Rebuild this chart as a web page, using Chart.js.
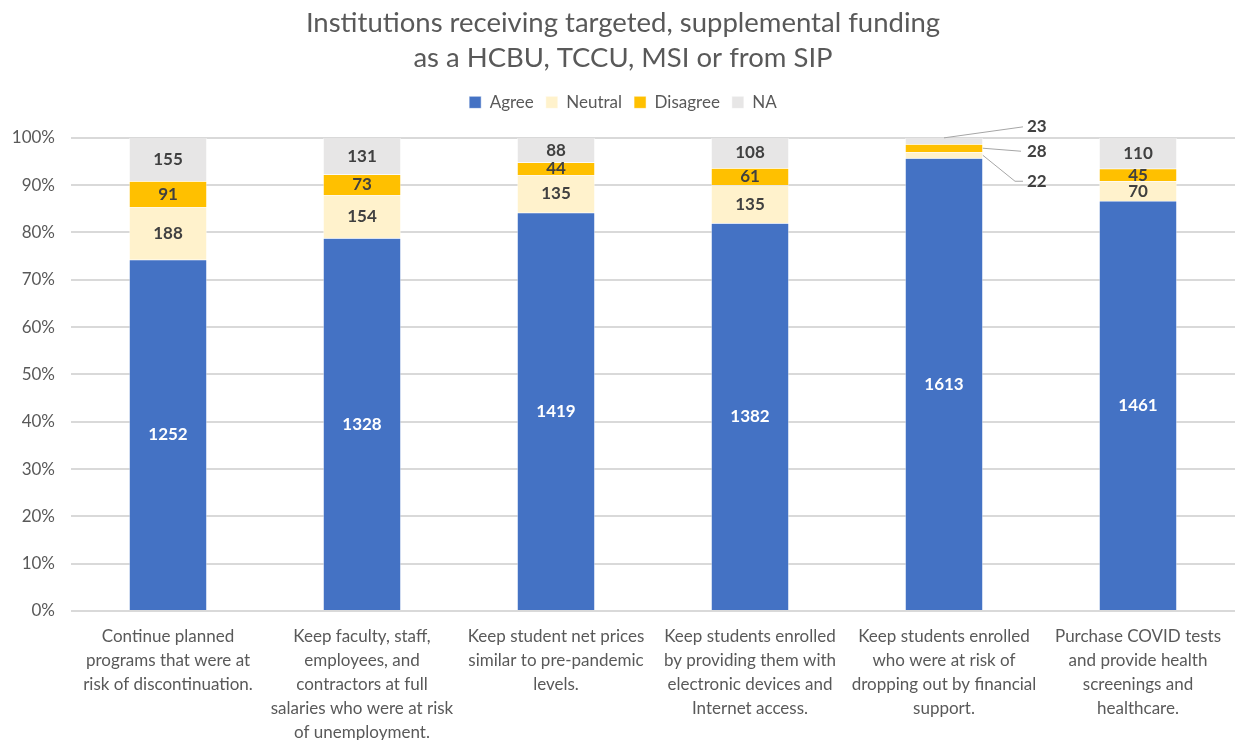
<!DOCTYPE html>
<html>
<head>
<meta charset="utf-8">
<script src="https://cdn.jsdelivr.net/npm/chart.js@4.4.0/dist/chart.umd.min.js"></script>
<style>
html,body{margin:0;padding:0;background:#fff;}
#wrap{width:1238px;height:740px;position:relative;}
</style>
</head>
<body>
<div id="wrap"><canvas id="c" width="1238" height="740"></canvas></div>
<script>
const categories = [
  ["Continue planned", "programs that were at", "risk of discontinuation."],
  ["Keep faculty, staff,", "employees, and", "contractors at full", "salaries who were at risk", "of unemployment."],
  ["Keep student net prices", "similar to pre-pandemic", "levels."],
  ["Keep students enrolled", "by providing them with", "electronic devices and", "Internet access."],
  ["Keep students enrolled", "who were at risk of", "dropping out by financial", "support."],
  ["Purchase COVID tests", "and provide health", "screenings and", "healthcare."]
];
const agree    = [1252, 1328, 1419, 1382, 1613, 1461];
const neutral  = [188, 154, 135, 135, 22, 70];
const disagree = [91, 73, 44, 61, 28, 45];
const na       = [155, 131, 88, 108, 23, 110];
const seriesNames = ["Agree", "Neutral", "Disagree", "NA"];
const yTicks = [0, 0.1, 0.2, 0.3, 0.4, 0.5, 0.6, 0.7, 0.8, 0.9, 1.0];
const calloutIndex = 4;

const counts = [agree, neutral, disagree, na];
const totals = categories.map((_, i) => counts.reduce((s, arr) => s + arr[i], 0));
const share = arr => arr.map((v, i) => v / totals[i]);

const colors = ["#4472C4", "#FFF2CC", "#FFC000", "#E7E6E6"];
const FONT = "Lato, 'Open Sans', sans-serif";

const legendHeightPlugin = {
  id: 'legendHeight',
  beforeInit(chart) {
    const lg = chart.legend;
    if (!lg) return;
    const orig = lg.fit;
    lg.fit = function () { orig.call(this); this.height = 56; };
  }
};

const labelPlugin = {
  id: 'segLabels',
  afterDatasetsDraw(chart) {
    const ctx = chart.ctx;
    ctx.save();
    ctx.font = "bold 17px " + FONT;
    ctx.textAlign = "center";
    ctx.textBaseline = "middle";
    chart.data.datasets.forEach((ds, di) => {
      const meta = chart.getDatasetMeta(di);
      meta.data.forEach((el, i) => {
        const raw = counts[di][i];
        const top = Math.min(el.y, el.base), bot = Math.max(el.y, el.base);
        const cy = (top + bot) / 2;
        if (i === calloutIndex && di > 0) {
          const rightX = el.x + el.width / 2;
          const lx = el.x + 83;
          let ly, pts;
          if (di === 3) { ly = top - 11; pts = [[el.x, top], [lx - 4, ly]]; }
          else if (di === 2) { ly = cy + 3; pts = [[rightX, cy], [lx - 6, ly]]; }
          else { ly = cy + 26; pts = [[rightX, cy], [lx - 12, ly], [lx - 4, ly]]; }
          ctx.strokeStyle = "#A6A6A6";
          ctx.lineWidth = 1;
          ctx.beginPath();
          ctx.moveTo(pts[0][0], pts[0][1]);
          for (let k = 1; k < pts.length; k++) ctx.lineTo(pts[k][0], pts[k][1]);
          ctx.stroke();
          ctx.fillStyle = "#404040";
          ctx.textAlign = "left";
          ctx.fillText(String(raw), lx, ly);
          ctx.textAlign = "center";
        } else {
          ctx.fillStyle = di === 0 ? "#FFFFFF" : "#404040";
          ctx.fillText(String(raw), el.x, cy);
        }
      });
    });
    ctx.restore();
  }
};

new Chart(document.getElementById('c'), {
  type: 'bar',
  data: {
    labels: categories,
    datasets: counts.map((arr, k) => ({
      label: seriesNames[k],
      data: share(arr),
      backgroundColor: colors[k],
      borderColor: "#FFFFFF",
      borderWidth: 0.5,
      categoryPercentage: 1.0,
      barPercentage: 0.4
    }))
  },
  options: {
    responsive: false,
    animation: false,
    layout: { padding: { left: 11, right: 3, top: 6, bottom: 0 } },
    plugins: {
      title: {
        display: true,
        text: ["Institutions receiving targeted, supplemental funding", "as a HCBU, TCCU, MSI or from SIP"],
        color: "#595959",
        font: { family: FONT, size: 27.5, weight: 'normal', lineHeight: 1.27 },
        padding: { top: 0, bottom: 6 }
      },
      legend: {
        display: true,
        labels: {
          color: "#595959",
          font: { family: FONT, size: 17 },
          boxWidth: 12, boxHeight: 12,
          padding: 12
        }
      },
      tooltip: { enabled: false }
    },
    scales: {
      x: {
        stacked: true,
        grid: { display: false },
        border: { display: false },
        ticks: {
          color: "#595959",
          font: { family: FONT, size: 17, lineHeight: 1.41 },
          maxRotation: 0, minRotation: 0,
          autoSkip: false,
          padding: 6
        },
        afterFit(scale) { scale.height = 129; }
      },
      y: {
        stacked: true,
        min: 0, max: 1,
        afterBuildTicks(scale) { scale.ticks = yTicks.map(v => ({ value: v })); },
        grid: { color: "#D9D9D9", lineWidth: 2, drawTicks: false },
        border: { display: false },
        ticks: {
          color: "#595959",
          font: { family: FONT, size: 17 },
          padding: 16,
          callback: v => Math.round(v * 100) + "%"
        },
        afterFit(scale) { scale.width = 60; }
      }
    }
  },
  plugins: [legendHeightPlugin, labelPlugin]
});
</script>
</body>
</html>
